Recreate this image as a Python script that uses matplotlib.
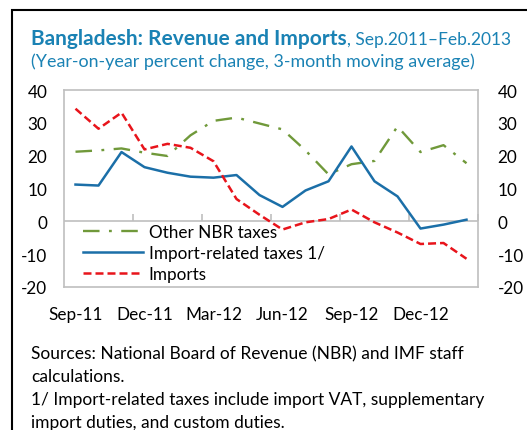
import matplotlib
matplotlib.use("Agg")
import matplotlib.pyplot as plt
from matplotlib.patches import Rectangle
import numpy as np

plt.rcParams["font.family"] = ["Lato", "DejaVu Sans"]
plt.rcParams["axes.unicode_minus"] = False

months = ["Sep-11", "Oct-11", "Nov-11", "Dec-11", "Jan-12", "Feb-12", "Mar-12",
          "Apr-12", "May-12", "Jun-12", "Jul-12", "Aug-12", "Sep-12", "Oct-12",
          "Nov-12", "Dec-12", "Jan-13", "Feb-13"]
other_nbr = [21.2, 21.6, 22.2, 20.9, 19.9, 26.2, 30.6, 31.6, 29.8, 28.0,
             21.6, 14.3, 17.4, 18.4, 28.9, 21.1, 23.2, 17.7]
import_taxes = [11.2, 10.9, 21.1, 16.5, 14.8, 13.6, 13.3, 14.1, 8.0, 4.4,
                9.4, 12.2, 22.8, 12.2, 7.6, -2.2, -1.0, 0.5]
imports = [34.3, 28.2, 33.1, 21.9, 23.6, 22.4, 18.3, 6.8, 2.0, -2.5,
           -0.3, 0.7, 3.6, -0.3, -3.4, -6.9, -6.6, -11.4]
yticks = [-20, -10, 0, 10, 20, 30, 40]
label_every = 3

GREEN = "#70993a"
BLUE = "#1b6fa8"
RED = "#e8141b"
TEAL = "#1a82b4"
GRAY = "#bfbfbf"
FS = 12.3

fig = plt.figure(figsize=(5.27, 4.31), dpi=100)
fig.patches.append(Rectangle((12 / 527, -0.1), 1.2, 1 - 11 / 431 + 0.1,
                             transform=fig.transFigure, fill=False,
                             edgecolor="black", linewidth=1.5))

ax = fig.add_axes([64 / 527, 1 - 288 / 431, 414 / 527, 197 / 431])
x = np.arange(len(months))

ax.plot(x, other_nbr, color=GREEN, lw=1.7, dashes=(7, 4, 1.2, 4),
        label="Other NBR taxes")
ax.plot(x, import_taxes, color=BLUE, lw=1.8, label="Import-related taxes 1/")
ax.plot(x, imports, color=RED, lw=1.8, dashes=(3.2, 1.6), label="Imports")

ax.set_xlim(-0.5, len(months) - 0.5)
ax.set_ylim(-20, 40)
ax.axhline(0, color=GRAY, lw=1.2, zorder=0)
for s in ax.spines.values():
    s.set_color(GRAY)
    s.set_linewidth(1.2)

ax.set_yticks(yticks)
ax.tick_params(axis="y", length=0, labelsize=FS, pad=12)
ax.set_xticks(x[::label_every])
ax.set_xticklabels(months[::label_every])
ax.tick_params(axis="x", length=0, labelsize=FS, pad=14)

# category-boundary tick marks sitting on the zero line
zero_pos = (0 - yticks[0]) / (yticks[-1] - yticks[0])
sec = ax.secondary_xaxis(zero_pos)
sec.set_xticks(np.arange(label_every - 0.5, len(months), label_every))
sec.tick_params(axis="x", direction="in", length=5, color=GRAY, width=1.2,
                labelbottom=False, labeltop=False)
sec.spines["bottom"].set_visible(False)
sec.spines["top"].set_visible(False)

axr = ax.twinx()
axr.set_ylim(ax.get_ylim())
axr.set_yticks(yticks)
axr.tick_params(axis="y", length=0, labelsize=FS, pad=14)
for s in axr.spines.values():
    s.set_visible(False)

ax.legend(loc="upper left", bbox_to_anchor=(0.025, 0.365), frameon=False,
          fontsize=FS, handlelength=3.5, handletextpad=0.35,
          labelspacing=0.3, borderpad=0)

title = fig.text(31 / 527, 1 - 45 / 431, "Bangladesh: Revenue and Imports",
                 color=TEAL, fontsize=15, fontweight="bold", va="baseline")
fig.canvas.draw()
bb = title.get_window_extent()
fig.text(bb.x1 / fig.bbox.width, 1 - 45 / 431, ", Sep.2011\u2013Feb.2013",
         color=TEAL, fontsize=12.5, va="baseline")
fig.text(31 / 527, 1 - 67 / 431,
         "(Year-on-year percent change, 3-month moving average)",
         color=TEAL, fontsize=12.9, va="baseline")

notes = ["Sources: National Board of Revenue (NBR) and IMF staff",
         "calculations.",
         "1/ Import-related taxes include import VAT, supplementary",
         "import duties, and custom duties."]
for i, line in enumerate(notes):
    fig.text(31 / 527, 1 - (359 + 23 * i) / 431, line, fontsize=12.5,
             va="baseline", color="black")

fig.savefig("out.png", dpi=100)
